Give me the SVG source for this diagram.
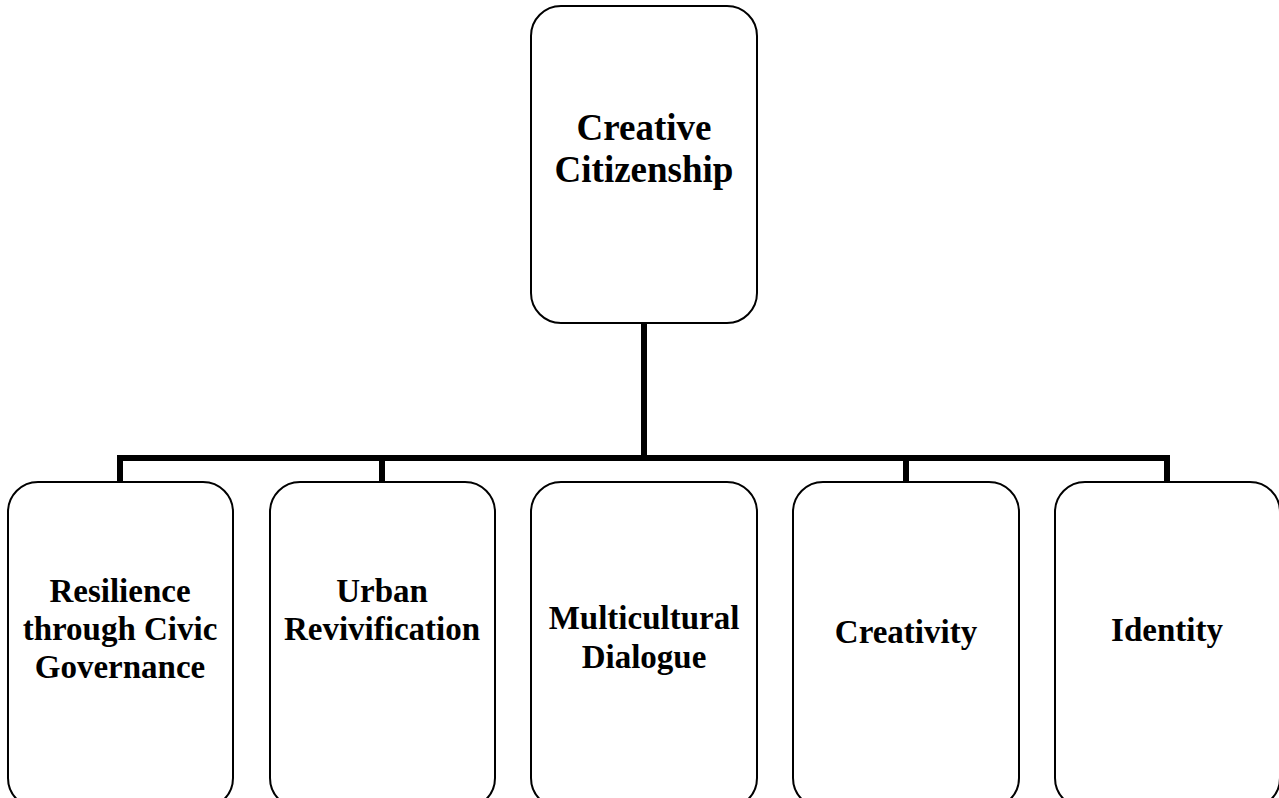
<svg xmlns="http://www.w3.org/2000/svg" width="1279" height="798" viewBox="0 0 1279 798">
<style>
.box{fill:#fff;stroke:#000;stroke-width:2}
.lbl{font-family:"Liberation Serif","Times New Roman",serif;font-weight:bold;font-size:33px;fill:#000;text-anchor:middle}
.top{font-size:37px}
.conn{fill:none;stroke:#000;stroke-width:6;stroke-linecap:square}
</style>
<rect width="1279" height="798" fill="#fff"/>
<g id="connectors">
<path class="conn" d="M644,324 V458 M120,458 H1167 M120,458 V481 M382,458 V481 M906,458 V481 M1167,458 V481"/>
</g>
<g id="node-creative-citizenship">
<rect class="box" x="531" y="6" width="226" height="317" rx="30"/>
<text class="lbl top" x="644" y="140">Creative</text>
<text class="lbl top" x="644" y="182">Citizenship</text>
</g>
<g id="node-resilience">
<rect class="box" x="8" y="482" width="225" height="326" rx="30"/>
<text class="lbl" x="120" y="602">Resilience</text>
<text class="lbl" x="120" y="640">through Civic</text>
<text class="lbl" x="120" y="678">Governance</text>
</g>
<g id="node-urban">
<rect class="box" x="270" y="482" width="225" height="326" rx="30"/>
<text class="lbl" x="382" y="602">Urban</text>
<text class="lbl" x="382" y="640">Revivification</text>
</g>
<g id="node-multicultural">
<rect class="box" x="531" y="482" width="226" height="326" rx="30"/>
<text class="lbl" x="644" y="629">Multicultural</text>
<text class="lbl" x="644" y="668">Dialogue</text>
</g>
<g id="node-creativity">
<rect class="box" x="793" y="482" width="226" height="326" rx="30"/>
<text class="lbl" x="906" y="643">Creativity</text>
</g>
<g id="node-identity">
<rect class="box" x="1055" y="482" width="225" height="326" rx="30"/>
<text class="lbl" x="1167" y="641">Identity</text>
</g>
</svg>
